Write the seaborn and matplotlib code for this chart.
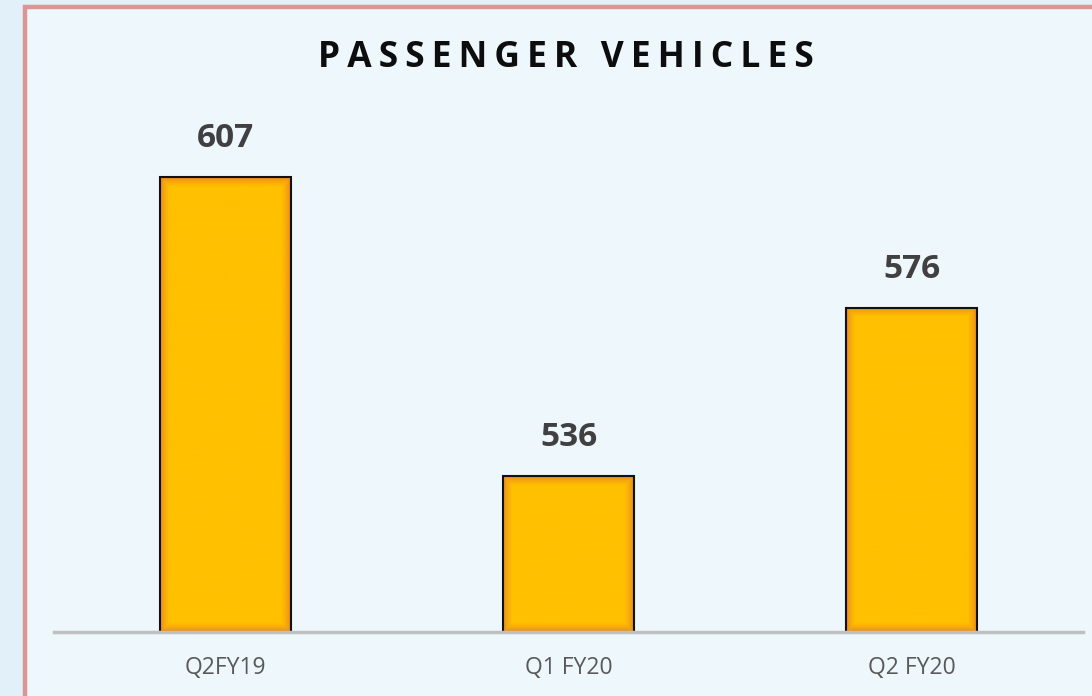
import matplotlib
matplotlib.use("Agg")
import matplotlib.pyplot as plt
import matplotlib.patches as mpatches
from matplotlib.colors import LinearSegmentedColormap
import seaborn as sns
import numpy as np
import pandas as pd

# Datos del gráfico
quarters = ["Q2FY19", "Q1 FY20", "Q2 FY20"]
volumes = [607, 536, 576]

sns.set_style("white")
plt.rcParams['font.family'] = ['Open Sans', 'DejaVu Sans']

df = pd.DataFrame({"quarter": quarters, "volume": volumes})

fig = plt.figure(figsize=(10.92, 6.96), dpi=100)
fig.patch.set_facecolor("#e2f0f9")

# Marco rosa
fig.patches.append(mpatches.Rectangle((24.5 / 1092, -0.05), 1.2, (696 - 7.5) / 696 + 0.05,
                                      transform=fig.transFigure, fill=True,
                                      facecolor="#eef7fc", edgecolor="#d99694",
                                      linewidth=3.2, zorder=-1))

ax = fig.add_axes([54 / 1092, 64 / 696, 1029 / 1092, 532 / 696])
ax.patch.set_alpha(0)

sns.barplot(data=df, x="quarter", y="volume", color="#ffc000", width=0.38,
            edgecolor="#111111", linewidth=1.5, saturation=1, ax=ax)

ymin, ymax = 499, 625.4
ax.set_ylim(ymin, ymax)
ax.set_xlim(-0.5, 2.5)

# Resplandor naranja en los bordes de las barras
glow = LinearSegmentedColormap.from_list("glow", ["#e58a1f", "#f7a90e", "#ffc000", "#ffc000"])
px_per_x = 1029 / 3
px_per_y = 532 / (ymax - ymin)
for bar in ax.patches:
    x0 = bar.get_x()
    w = bar.get_width()
    y0 = max(bar.get_y(), ymin)
    y1 = bar.get_y() + bar.get_height()
    nx, ny = int(w * px_per_x), int((y1 - y0) * px_per_y)
    xx = np.arange(nx) + 0.5
    yy = np.arange(ny) + 0.5
    dx = np.minimum(xx, nx - xx)[None, :]
    dy = np.minimum(yy, ny - yy)[:, None]
    d = np.clip(np.minimum(dx, dy) / 14.0, 0, 1)
    ax.imshow(d, cmap=glow, vmin=0, vmax=1, extent=(x0, x0 + w, y0, y1),
              aspect="auto", origin="lower", zorder=bar.get_zorder() - 0.1,
              interpolation="bilinear")
    bar.set_facecolor("none")
    bar.set_zorder(bar.get_zorder() + 0.1)

ax.set_ylim(ymin, ymax)
ax.set_xlim(-0.5, 2.5)

for i, v in enumerate(volumes):
    ax.annotate(f"{v}", xy=(i, v), xytext=(0, 28), textcoords="offset points",
                ha="center", va="center", fontsize=24, fontweight="bold",
                color="#404040")

sns.despine(ax=ax, left=True, top=True, right=True)
ax.spines["bottom"].set_color("#c0c0c0")
ax.spines["bottom"].set_linewidth(2.5)
ax.spines["bottom"].set_zorder(5)
ax.set_yticks([])
ax.set_xlabel("")
ax.set_ylabel("")
ax.tick_params(axis="x", length=0, pad=17, labelsize=16.5, labelcolor="#595959")

title = "\u2009".join("PASSENGER VEHICLES")
fig.text(566 / 1092, 1 - 58 / 696, title, ha="center", va="center",
         fontsize=25.5, fontweight="bold", color="#0d0d0d")

plt.savefig("out.png", dpi=100, facecolor=fig.get_facecolor())
